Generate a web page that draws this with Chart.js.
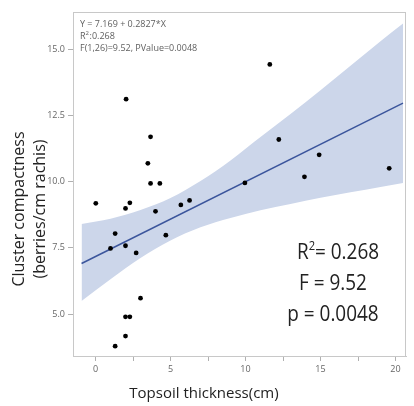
<!DOCTYPE html>
<html lang="en">
<head>
    <meta charset="UTF-8">
    <title>Cluster compactness vs topsoil thickness</title>
    <script src="https://cdn.jsdelivr.net/npm/chart.js"></script>
    <style>
        html, body {
            margin: 0;
            padding: 0;
            background: #ffffff;
        }
        .wrap {
            width: 414px;
            height: 406px;
        }
    </style>
</head>
<body>
    <div class="wrap">
        <canvas id="chart" width="414" height="406"></canvas>
    </div>

    <script>
        const thickness = [2.04, 3.67, 3.49, 3.67, 4.29, 0.02, 2.0, 2.29, 4.0, 5.69, 6.27, 1.31, 4.69, 1.0,
                           2.0, 2.71, 3.0, 2.0, 2.29, 2.0, 1.31, 11.62, 12.22, 14.91, 9.96, 13.93, 19.58];
        const compactness = [13.11, 11.69, 10.69, 9.93, 9.93, 9.18, 8.99, 9.2, 8.88, 9.12, 9.29, 8.04, 7.98, 7.48,
                             7.58, 7.31, 5.6, 4.9, 4.9, 4.17, 3.79, 14.42, 11.59, 11.01, 9.95, 10.18, 10.5];

        // Fitted line ends and confidence band edges
        const fitX = [-0.93, 20.5];
        const fitY = [6.91, 12.96];
        const bandX = [-0.93, 1, 3, 5, 7, 9, 11, 13, 15, 17, 19, 20.5];
        const bandUpper = [8.40, 8.60, 8.93, 9.38, 10.02, 10.80, 11.68, 12.55, 13.45, 14.37, 15.30, 15.97];
        const bandLower = [5.50, 6.32, 7.12, 7.78, 8.28, 8.63, 8.92, 9.16, 9.39, 9.60, 9.80, 9.95];

        // Ticks
        const xTicks = [0, 5, 10, 15, 20];
        const yTicks = [5.0, 7.5, 10.0, 12.5, 15.0];

        const toPts = (xs, ys) => xs.map((x, i) => ({x: x, y: ys[i]}));

        // Texts drawn on top: stats box, big stats, axis titles
        const textPlugin = {
            id: 'texts',
            afterDraw(chart) {
                const ctx = chart.ctx;
                const a = chart.chartArea;
                ctx.save();

                // frame
                ctx.strokeStyle = '#c8c8c8';
                ctx.lineWidth = 1;
                ctx.strokeRect(a.left + 0.5, a.top + 0.5, a.right - a.left - 1, a.bottom - a.top);

                // small stats at top left
                ctx.fillStyle = '#606060';
                ctx.font = '9px "Open Sans"';
                ctx.textAlign = 'left';
                ctx.textBaseline = 'middle';
                ctx.fillText('Y = 7.169 + 0.2827*X', 80, 24);
                ctx.fillText('R', 80, 36);
                let w = ctx.measureText('R').width;
                ctx.font = '6px "Open Sans"';
                ctx.fillText('2', 80 + w, 33);
                ctx.font = '9px "Open Sans"';
                ctx.fillText(':0.268', 80 + w + 4, 36);
                ctx.fillText('F(1,26)=9.52, PValue=0.0048', 80, 48);

                // big stats, slightly narrow
                ctx.fillStyle = '#222222';
                const big = (txt, cx, cy) => {
                    ctx.save();
                    ctx.translate(cx, cy);
                    ctx.scale(0.86, 1);
                    ctx.textAlign = 'center';
                    ctx.fillText(txt, 0, 0);
                    ctx.restore();
                };
                ctx.font = '22px "Open Sans"';
                ctx.textBaseline = 'middle';
                // R² = 0.268 built from pieces
                ctx.save();
                ctx.translate(297, 253);
                ctx.scale(0.86, 1);
                ctx.textAlign = 'left';
                ctx.fillText('R', 0, 0);
                let rw = ctx.measureText('R').width;
                ctx.font = '13px "Open Sans"';
                ctx.fillText('2', rw, -7);
                let sw = ctx.measureText('2').width;
                ctx.font = '22px "Open Sans"';
                ctx.fillText('= 0.268', rw + sw, 0);
                ctx.restore();
                big('F = 9.52', 333, 284);
                big('p = 0.0048', 333, 315);

                // axis titles
                ctx.fillStyle = '#222222';
                ctx.font = '15px "Open Sans"';
                ctx.textAlign = 'center';
                ctx.fillText('Topsoil thickness(cm)', 204, 394);

                ctx.font = '16px "Open Sans"';
                ctx.translate(19, 209);
                ctx.rotate(-Math.PI / 2);
                ctx.fillText('Cluster compactness', 0, 0);
                ctx.fillText('(berries/cm rachis)', 0, 21);
                ctx.restore();
            }
        };

        const ctx = document.getElementById('chart').getContext('2d');

        const chart = new Chart(ctx, {
            type: 'scatter',
            data: {
                datasets: [
                    {
                        label: 'lower',
                        data: toPts(bandX, bandLower),
                        order: 4,
                        showLine: true,
                        borderWidth: 0,
                        borderColor: 'rgba(0,0,0,0)',
                        pointRadius: 0,
                        cubicInterpolationMode: 'monotone',
                        fill: false
                    },
                    {
                        label: 'upper',
                        data: toPts(bandX, bandUpper),
                        order: 3,
                        showLine: true,
                        borderWidth: 0,
                        borderColor: 'rgba(0,0,0,0)',
                        backgroundColor: 'rgb(204, 214, 234)',
                        pointRadius: 0,
                        cubicInterpolationMode: 'monotone',
                        fill: '-1'
                    },
                    {
                        label: 'fit',
                        data: toPts(fitX, fitY),
                        order: 2,
                        showLine: true,
                        borderColor: '#3b559c',
                        borderWidth: 1.5,
                        pointRadius: 0,
                        fill: false
                    },
                    {
                        label: 'data',
                        data: toPts(thickness, compactness),
                        order: 1,
                        backgroundColor: '#000000',
                        borderColor: '#000000',
                        pointRadius: 2.4,
                        borderWidth: 0
                    }
                ]
            },
            options: {
                responsive: false,
                animation: false,
                events: [],
                layout: {
                    padding: {left: 0, top: 12, right: 8, bottom: 0}
                },
                plugins: {
                    legend: {display: false},
                    tooltip: {enabled: false}
                },
                scales: {
                    x: {
                        type: 'linear',
                        min: -1.5,
                        max: 20.7,
                        afterFit: (scale) => { scale.height = 50; },
                        afterBuildTicks: (scale) => {
                            const t = [];
                            for (let v = 0; v <= 20; v += 2.5) t.push({value: v});
                            scale.ticks = t;
                        },
                        ticks: {
                            autoSkip: false,
                            maxRotation: 0,
                            padding: 3,
                            color: '#666666',
                            font: {size: 9, family: "'Open Sans'"},
                            callback: (v) => xTicks.includes(v) ? String(v) : ''
                        },
                        grid: {
                            drawOnChartArea: false,
                            tickLength: 5,
                            color: '#b0b0b0'
                        },
                        border: {color: '#c8c8c8'}
                    },
                    y: {
                        type: 'linear',
                        min: 3.42,
                        max: 16.4,
                        afterFit: (scale) => { scale.width = 73; },
                        afterBuildTicks: (scale) => {
                            scale.ticks = yTicks.map(v => ({value: v}));
                        },
                        ticks: {
                            padding: 3,
                            color: '#666666',
                            font: {size: 9, family: "'Open Sans'"},
                            callback: (v) => Number(v).toFixed(1)
                        },
                        grid: {
                            drawOnChartArea: false,
                            tickLength: 5,
                            color: '#b0b0b0'
                        },
                        border: {color: '#c8c8c8'}
                    }
                }
            },
            plugins: [textPlugin]
        });
    </script>
</body>
</html>
